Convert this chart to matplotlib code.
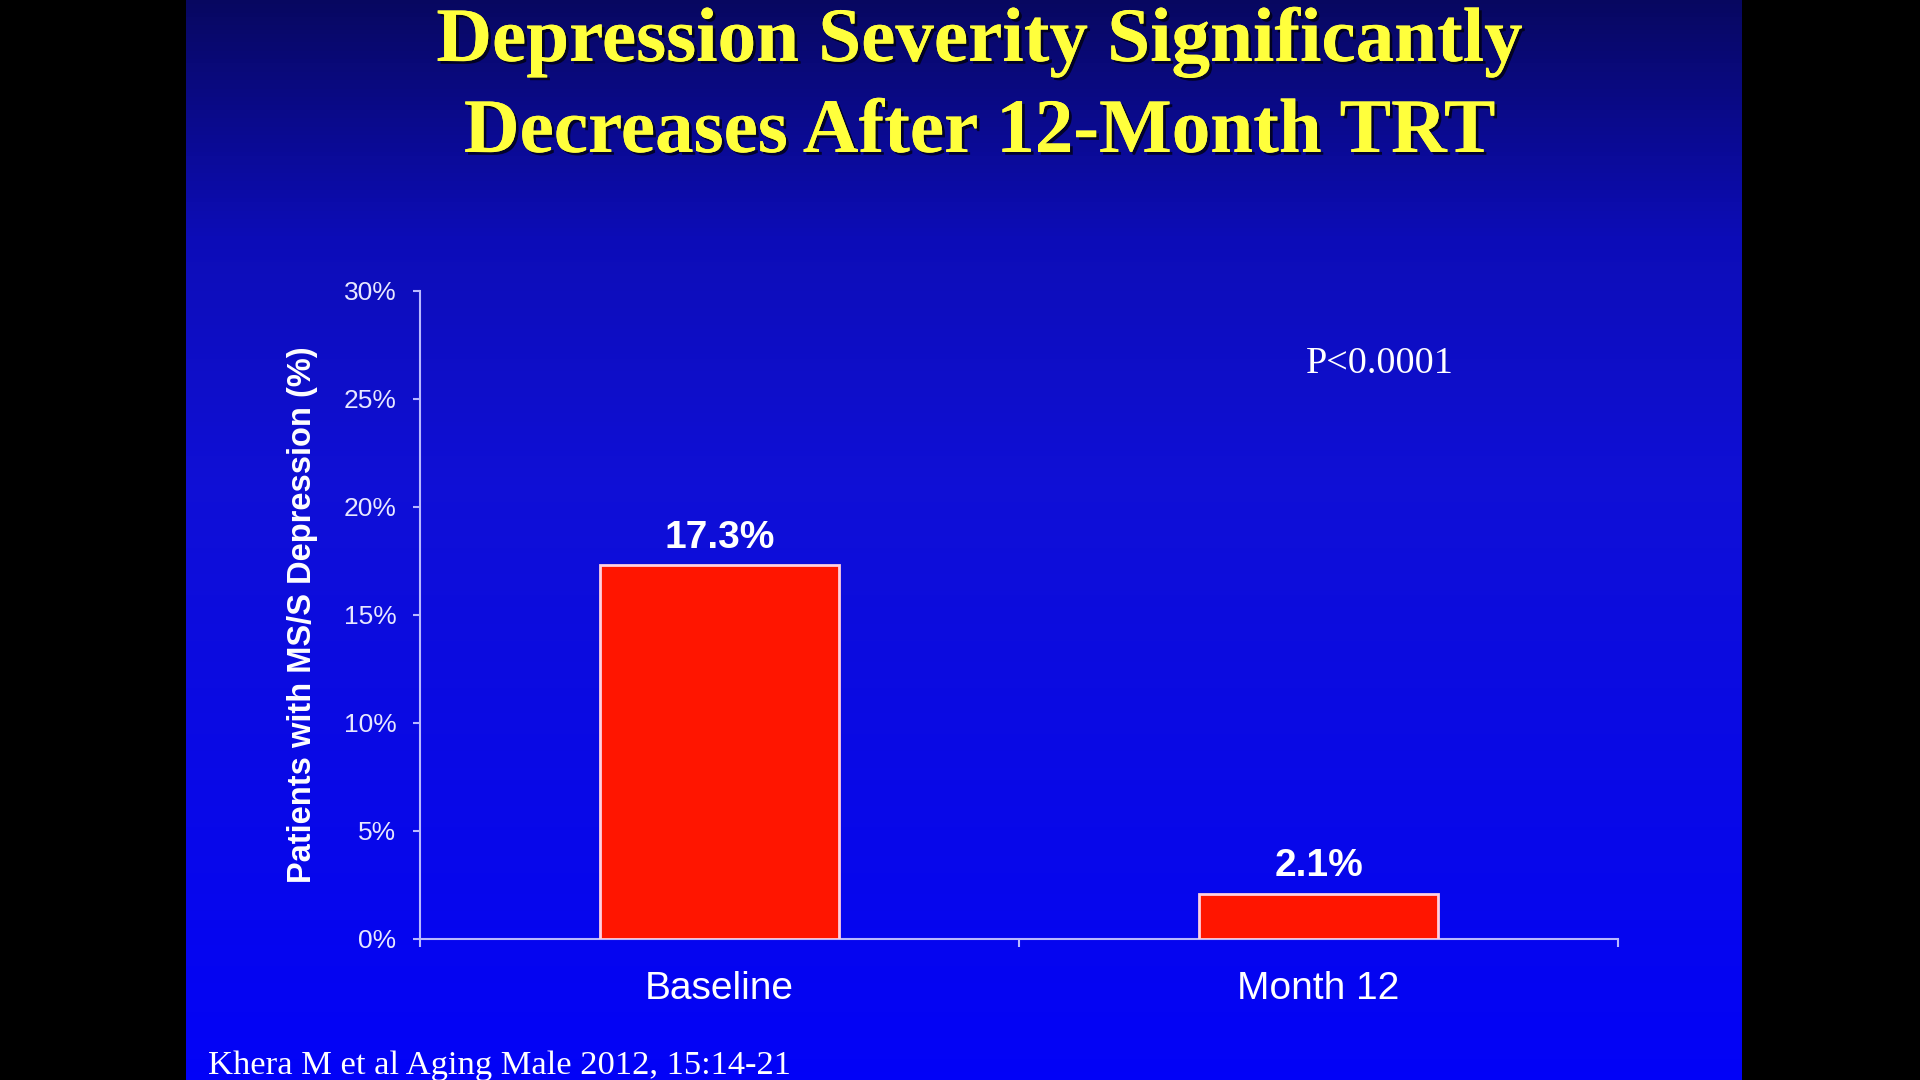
import numpy as np
import matplotlib
matplotlib.use('Agg')
import matplotlib.pyplot as plt
import matplotlib.patheffects as pe
from matplotlib.colors import LinearSegmentedColormap

# data
categories = ['Baseline', 'Month 12']
values = [17.3, 2.1]
value_labels = ['17.3%', '2.1%']
yticks = [0, 5, 10, 15, 20, 25, 30]
ytick_labels = ['0%', '5%', '10%', '15%', '20%', '25%', '30%']

title_lines = ['Depression Severity Significantly', 'Decreases After 12-Month TRT']
ylabel = 'Patients with MS/S Depression (%)'
p_text = 'P<0.0001'
source = 'Khera M et al Aging Male 2012, 15:14-21'

W, H = 1920, 1080
fig = plt.figure(figsize=(19.2, 10.8), dpi=100, facecolor='black')

# slide background: dark navy at top fading to bright blue lower down
slide_l, slide_r = 186 / W, 1742 / W
bg = fig.add_axes([slide_l, 0, slide_r - slide_l, 1], zorder=0)
cmap = LinearSegmentedColormap.from_list('slide', [
    (0.0, (0.03, 0.03, 0.38)),
    (0.22, (0.05, 0.05, 0.72)),
    (0.45, (0.06, 0.06, 0.84)),
    (1.0, (0.01, 0.01, 0.97)),
])
grad = np.linspace(0, 1, 256).reshape(-1, 1)
bg.imshow(grad, aspect='auto', cmap=cmap, extent=[0, 1, 1, 0])
bg.set_axis_off()

# chart axes
ax = fig.add_axes([420 / W, 1 - 939 / H, (1618 - 420) / W, (939 - 291) / H], zorder=2)
ax.set_facecolor('none')
x = np.arange(len(categories))
ax.bar(x, values, width=0.4, color='#ff1500', edgecolor='#ffd0e0', linewidth=2, zorder=3)

for xi, v, lab in zip(x, values, value_labels):
    ax.annotate(lab, (xi, v), xytext=(0, 12.5), textcoords='offset points',
                ha='center', va='baseline', color='white', fontsize=28,
                fontweight='bold', family='Liberation Sans')

ax.set_xlim(-0.5, 1.5)
ax.set_ylim(0, 30)
ax.set_yticks(yticks)
ax.set_yticklabels(ytick_labels)
ax.set_xticks(x)
ax.set_xticklabels(categories)
ax.set_xticks([-0.5, 0.5, 1.5], minor=True)

spine_col = '#b8b8ff'
for s in ['top', 'right']:
    ax.spines[s].set_visible(False)
for s in ['left', 'bottom']:
    ax.spines[s].set_color(spine_col)
    ax.spines[s].set_linewidth(1.5)

ax.tick_params(axis='y', colors=spine_col, length=5, width=1.5, pad=12,
               labelsize=19, labelcolor='#e8e8ff')
ax.tick_params(axis='x', which='major', length=0, pad=23, labelsize=28,
               labelcolor='white')
ax.tick_params(axis='x', which='minor', length=6, width=1.5, colors=spine_col)
for lab in ax.get_yticklabels() + ax.get_xticklabels():
    lab.set_family('Liberation Sans')

# y label placed as figure text to match the slide
fig.text(302 / W, 1 - 615 / H, ylabel, rotation=90, ha='center', va='center',
         color='white', fontsize=23.5, fontweight='bold', family='Liberation Sans',
         zorder=5)

# title with dark drop shadow
shadow = [pe.withSimplePatchShadow(offset=(2, -2), shadow_rgbFace='black', alpha=0.7),
          pe.Normal()]
for i, line in enumerate(title_lines):
    fig.text(980 / W, 1 - (61 + 91 * i) / H, line, ha='center', va='baseline',
             color='#ffff3c', fontsize=55.5, fontweight='bold', family='Liberation Serif',
             path_effects=shadow, zorder=5)

fig.text(1306 / W, 1 - 364 / H, p_text, ha='left', va='center', color='white',
         fontsize=27.5, family='Liberation Serif', zorder=5)
fig.text(208 / W, 1 - 1074 / H, source, ha='left', va='baseline', color='white',
         fontsize=24.8, family='Liberation Serif', zorder=5)

fig.savefig('out.png', dpi=100, facecolor='black')
